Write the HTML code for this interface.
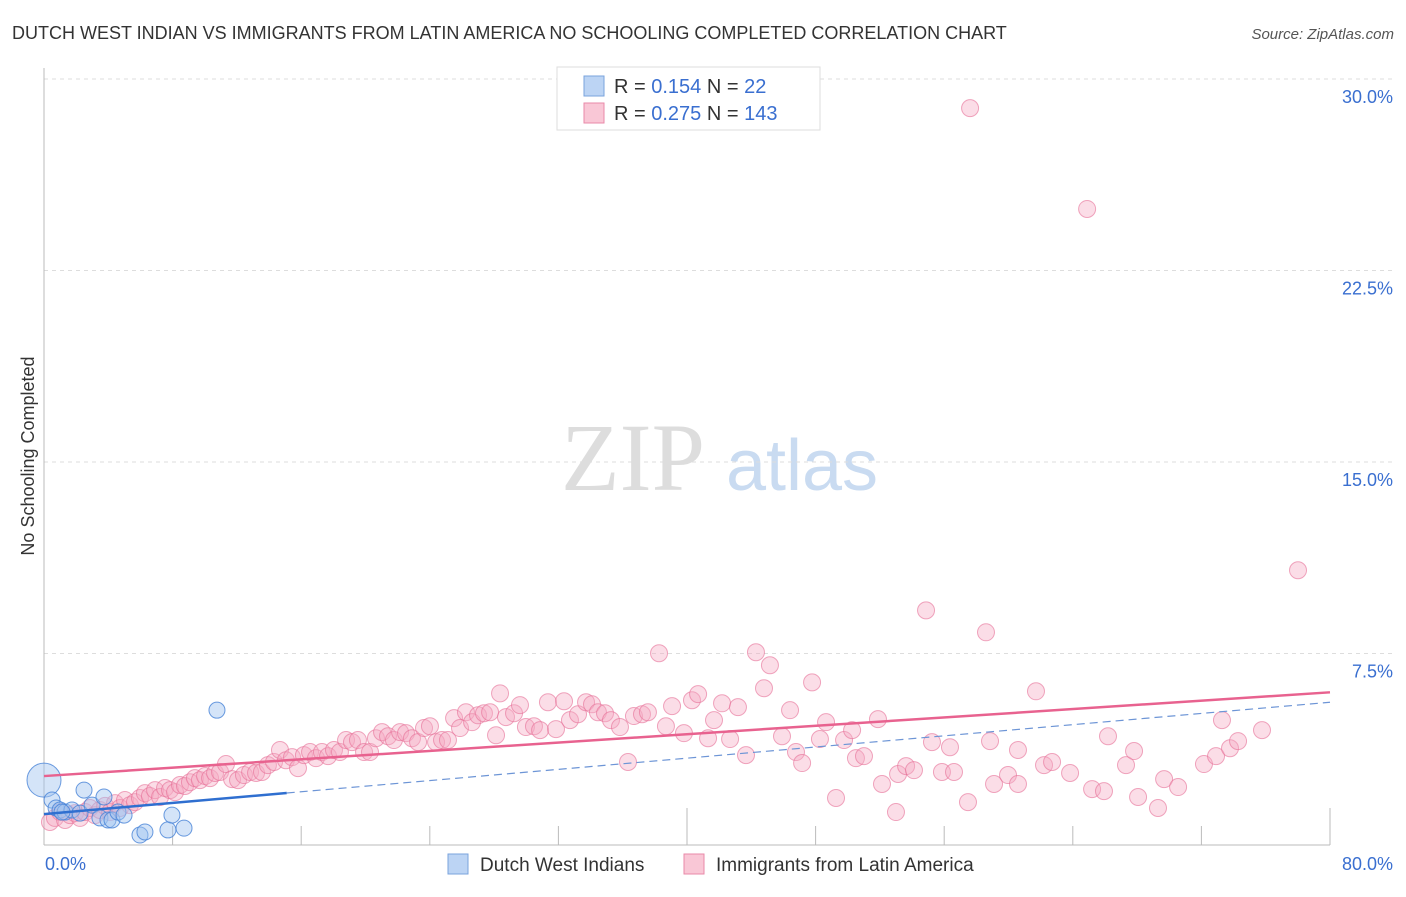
<!DOCTYPE html>
<html><head><meta charset="utf-8"><style>
body{margin:0;background:#fff;font-family:"Liberation Sans",sans-serif;}
svg text{font-family:"Liberation Sans",sans-serif;}
</style></head><body>
<svg id="chart" width="1406" height="892" viewBox="0 0 1406 892">
<text x="12" y="39" font-size="18" fill="#333">DUTCH WEST INDIAN VS IMMIGRANTS FROM LATIN AMERICA NO SCHOOLING COMPLETED CORRELATION CHART</text>
<text x="1394" y="39" font-size="15" fill="#555" text-anchor="end" font-style="italic">Source: ZipAtlas.com</text>
<g>
<text x="633" y="490" font-size="96" fill="#ddd" text-anchor="middle" font-family="Liberation Serif,serif" style="font-family:'Liberation Serif',serif">ZIP</text>
<text x="802" y="490" font-size="72" fill="#c9dbf1" text-anchor="middle">atlas</text>
</g>
<g id="grid"></g>
<g id="axes"></g>
<g id="pink"></g>
<g id="blue"></g>
<g id="lines"></g>
<text transform="translate(34,456) rotate(-90)" font-size="18" fill="#333" text-anchor="middle">No Schooling Completed</text>
<g>
<rect x="557" y="67" width="263" height="63" fill="#fff" stroke="#ddd"/>
<rect x="584" y="76" width="20" height="20" fill="#bcd4f4" stroke="#7aa3dd"/>
<rect x="584" y="103" width="20" height="20" fill="#f9c7d6" stroke="#e98aa8"/>
<text x="614" y="93" font-size="20" fill="#333">R = <tspan fill="#3a6fd0">0.154</tspan>   N =  <tspan fill="#3a6fd0"> 22</tspan></text>
<text x="614" y="120" font-size="20" fill="#333">R = <tspan fill="#3a6fd0">0.275</tspan>   N = <tspan fill="#3a6fd0">143</tspan></text>
</g>
<g>
<rect x="448" y="854" width="20" height="20" fill="#bcd4f4" stroke="#7aa3dd"/>
<text x="480" y="871" font-size="19" fill="#333">Dutch West Indians</text>
<rect x="684" y="854" width="20" height="20" fill="#f9c7d6" stroke="#e98aa8"/>
<text x="716" y="871" font-size="19" fill="#333">Immigrants from Latin America</text>
</g>
</svg>
<script>
const yTicks=[7.5,15,22.5,30];
const yTickLabels=["7.5%","15.0%","22.5%","30.0%"];
const xTickVals=[0,8,16,24,32,40,48,56,64,72,80];
const xEndLabels=["0.0%","80.0%"];
const pinkX=[0.37,0.68,1.00,1.31,1.62,1.93,2.24,2.55,2.86,3.17,3.48,3.80,4.11,4.42,4.73,5.04,5.35,5.66,5.97,6.28,6.59,6.91,7.22,7.53,7.84,8.15,8.46,8.77,9.08,9.39,9.70,10.02,10.33,10.64,10.95,11.32,11.70,12.07,12.44,12.82,13.19,13.56,13.93,14.31,14.68,15.05,15.43,15.80,16.17,16.55,16.92,17.29,17.67,18.04,18.41,18.79,19.16,19.53,19.91,20.28,20.65,21.03,21.40,21.77,22.15,22.52,22.89,23.27,23.64,24.01,24.39,24.76,25.13,25.51,25.88,26.25,26.63,27.00,27.37,27.75,28.12,28.37,28.74,29.24,29.61,29.98,30.48,30.86,31.35,31.85,32.35,32.72,33.22,33.72,34.09,34.46,34.90,35.27,35.83,36.33,36.70,37.20,37.57,38.26,38.69,39.07,39.81,40.31,40.69,41.31,41.68,42.18,42.68,43.17,43.67,44.29,44.79,45.16,45.91,46.41,46.78,47.16,47.78,48.27,48.65,49.27,49.77,50.27,50.51,51.01,51.88,52.13,53.00,53.13,53.63,54.12,54.87,55.24,55.86,56.36,56.61,57.48,57.61,58.60,58.85,59.10,59.97,60.59,60.59,61.71,62.21,62.71,63.83,64.89,65.20,65.94,66.19,67.31,67.81,68.06,69.30,69.68,70.55,72.16,72.91,73.28,73.78,74.28,75.77,78.01];
const pinkY=[0.90,1.06,1.29,0.98,1.17,1.25,1.06,1.29,1.45,1.17,1.37,1.53,1.29,1.64,1.45,1.76,1.56,1.68,1.84,2.03,1.92,2.15,1.88,2.23,2.15,2.07,2.35,2.31,2.46,2.62,2.54,2.70,2.62,2.82,2.86,3.17,2.58,2.54,2.74,2.86,2.82,2.86,3.13,3.25,3.72,3.32,3.44,3.01,3.52,3.64,3.40,3.64,3.48,3.72,3.64,4.11,4.03,4.11,3.64,3.64,4.18,4.42,4.26,4.11,4.42,4.38,4.18,4.03,4.58,4.65,4.03,4.11,4.11,4.97,4.58,5.20,4.81,5.08,5.16,5.20,4.30,5.94,5.01,5.16,5.48,4.62,4.65,4.50,5.59,4.54,5.63,4.89,5.12,5.59,5.51,5.20,5.16,4.89,4.62,3.25,5.05,5.12,5.20,7.51,4.65,5.44,4.38,5.67,5.91,4.18,4.89,5.55,4.15,5.40,3.52,7.55,6.14,7.04,4.26,5.28,3.64,3.21,6.37,4.15,4.81,1.84,4.11,4.50,3.40,3.48,4.93,2.39,1.29,2.78,3.09,2.93,9.19,4.03,2.86,3.83,2.86,1.68,28.86,8.33,4.07,2.39,2.74,3.72,2.39,6.02,3.13,3.25,2.82,24.91,2.19,2.11,4.26,3.13,3.68,1.88,1.45,2.58,2.27,3.17,3.48,4.89,3.79,4.07,4.50,10.76];
const blueX=[0,0.50,0.75,1.00,1.31,1.74,2.24,2.49,2.99,3.48,3.73,3.98,4.23,4.60,4.98,5.97,6.28,7.71,7.96,8.71,10.76,1.12];
const blueY=[2.54,1.76,1.45,1.37,1.29,1.37,1.25,2.15,1.56,1.06,1.88,0.98,0.98,1.29,1.17,0.39,0.51,0.59,1.17,0.66,5.28,1.29];
const blueR=[17,8,8,8,8,8,8,8,8,8,8,8,8,8,8,8,8,8,8,8,8,8];
const pinkTrend=[2.70,5.98];
const blueTrend=[1.21,5.59];
const blueSolidEnd=[15.1];

const NS="http://www.w3.org/2000/svg";
const X0=44,X1=1330,Y0=845,Y1=79;
const xs=v=>X0+(X1-X0)*v/80;
const ys=v=>Y0-(Y0-Y1)*v/30;
function mk(tag,attrs,parent){const e=document.createElementNS(NS,tag);for(const k in attrs)e.setAttribute(k,attrs[k]);document.getElementById(parent).appendChild(e);return e;}
yTicks.forEach((t,i)=>{
  const l=mk('line',{x1:X0,x2:1394,y1:ys(t),y2:ys(t),stroke:'#ddd','stroke-dasharray':'4,4'},'grid');
  
  
  const tx=mk('text',{x:1393,y:ys(t)+24,'font-size':18,fill:'#3a6fd0','text-anchor':'end'},'axes');
  tx.textContent=yTickLabels[i];
  
  
});
const ax=mk('line',{x1:X0,x2:X0,y1:68,y2:Y0,stroke:'#bbb'},'axes');


const bx=mk('line',{x1:X0,x2:X1,y1:Y0,y2:Y0,stroke:'#bbb'},'axes');


xTickVals.forEach((t,i)=>{
  const tk=mk('line',{x1:xs(t),x2:xs(t),y1:(i%5==0&&i>0)?808:826,y2:Y0,stroke:'#bbb'},'axes');
  
  
});
const xl0=mk('text',{x:45,y:870,'font-size':18,fill:'#3a6fd0'},'axes');xl0.textContent=xEndLabels[0];


const xl1=mk('text',{x:1393,y:870,'font-size':18,fill:'#3a6fd0','text-anchor':'end'},'axes');xl1.textContent=xEndLabels[1];


pinkX.forEach((v,i)=>{
  const c=mk('circle',{cx:xs(v),cy:ys(pinkY[i]),r:8.5,fill:'rgba(246,170,195,0.4)',stroke:'rgba(230,110,150,0.6)','stroke-width':1},'pink');
  
  
});
blueX.forEach((v,i)=>{
  const c=mk('circle',{cx:xs(v),cy:ys(blueY[i]),r:blueR[i],fill:'rgba(160,195,240,0.45)',stroke:'rgba(70,130,215,0.8)','stroke-width':1},'blue');
  
  
});
const pl=mk('line',{x1:xs(0),y1:ys(pinkTrend[0]),x2:xs(80),y2:ys(pinkTrend[1]),stroke:'#e8628f','stroke-width':2.5},'lines');


const bAt=v=>blueTrend[0]+(blueTrend[1]-blueTrend[0])*v/80;
const bl=mk('line',{x1:xs(0),y1:ys(bAt(0)),x2:xs(blueSolidEnd[0]),y2:ys(bAt(blueSolidEnd[0])),stroke:'#2f6fd0','stroke-width':2.5},'lines');


const bd=mk('line',{x1:xs(blueSolidEnd[0]),y1:ys(bAt(blueSolidEnd[0])),x2:xs(80),y2:ys(bAt(80)),stroke:'#6d95d6','stroke-width':1.2,'stroke-dasharray':'8,5'},'lines');


</script>
</body></html>
